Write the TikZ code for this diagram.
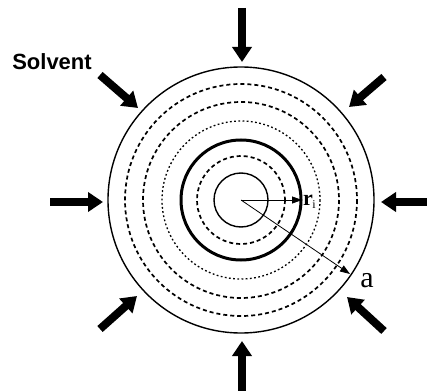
\documentclass[tikz,border=0pt]{standalone}
\usepackage{fontspec}
\setmainfont{Liberation Serif}
\setsansfont{Liberation Sans}
\usetikzlibrary{arrows.meta}
\tikzset{
  bigarrow/.style={line width=8pt,-{Triangle[length=15pt,width=19pt]}},
  ring/.style={line width=1.4pt},
  thickring/.style={line width=3pt},
  dashring/.style={line width=1.7pt,dash pattern=on 4pt off 3pt},
  dotring/.style={line width=1.3pt,dash pattern=on 1.8pt off 2.4pt},
  radius arrow/.style={line width=0.8pt,-{Triangle[length=10pt,width=7pt]}},
  lbl/.style={inner sep=0pt}
}
\begin{document}
\begin{tikzpicture}[x=1pt,y=-1pt]
\useasboundingbox (0,0) rectangle (427,390);
\clip (0,0) rectangle (427,390);
\coordinate (O) at (241,200);
% rings
\draw[ring] (O) circle[radius=133];
\draw[dashring] (O) circle[radius=116];
\draw[dashring] (O) circle[radius=98];
\draw[dotring] (O) circle[radius=79];
\draw[thickring] (O) circle[radius=60];
\draw[dashring] (O) circle[radius=44];
\draw[ring] (O) circle[radius=27];
% radius arrows
\coordinate (ri) at (302,200);
\coordinate (aa) at (350,274);
\draw[radius arrow] (O) -- (ri);
\draw[radius arrow] (O) -- (aa);
\node[lbl,anchor=west] (rlabel) at (303,202) {\fontsize{22}{22}\selectfont\textbf{r}\kern-0.5pt\raisebox{-3pt}{\fontsize{12}{12}\selectfont i}};
\node[lbl] (alabel) at (367,281) {\fontsize{30}{30}\selectfont a};
% solvent arrows
\coordinate (t1) at (242,8);   \coordinate (h1) at (242,62);
\coordinate (t2) at (50,202);  \coordinate (h2) at (103,202);
\coordinate (t3) at (242,395); \coordinate (h3) at (242,341);
\coordinate (t4) at (432,202); \coordinate (h4) at (381,202);
\coordinate (t5) at (100,75);  \coordinate (h5) at (138,108);
\coordinate (t6) at (384,77);  \coordinate (h6) at (349,107);
\coordinate (t7) at (100,329); \coordinate (h7) at (137,296);
\coordinate (t8) at (384,331); \coordinate (h8) at (347,297);
\foreach \i in {1,...,8} {\draw[bigarrow] (t\i) -- (h\i);}
\node[lbl] (solvent) at (52,62) {\fontsize{22}{22}\selectfont\sffamily\bfseries Solvent};
\end{tikzpicture}
\end{document}
